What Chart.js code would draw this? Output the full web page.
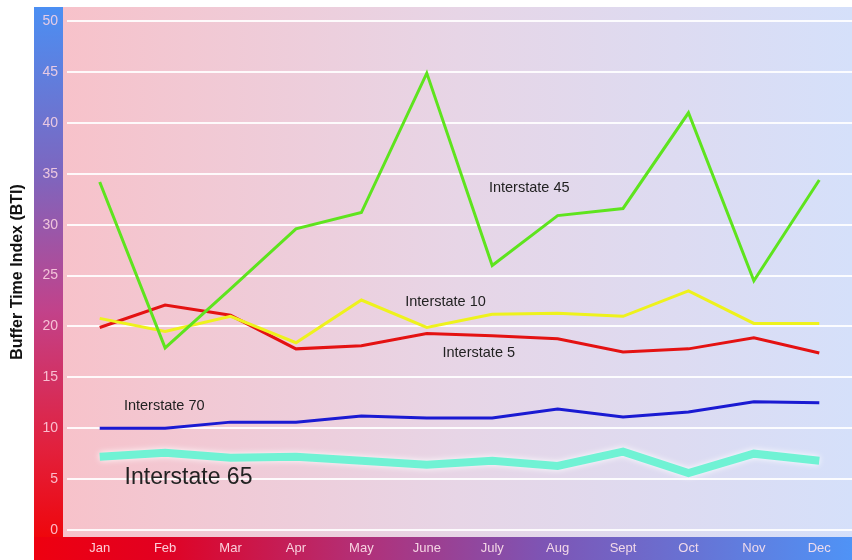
<!DOCTYPE html>
<html>
<head>
<meta charset="utf-8">
<script src="https://cdn.jsdelivr.net/npm/chart.js@4"></script>
<style>
  html, body { margin: 0; padding: 0; background: #fff; }
  #wrap { width: 852px; height: 560px; }
</style>
</head>
<body>
<div id="wrap"><canvas id="myChart"></canvas></div>
<script>
const months = ['Jan', 'Feb', 'Mar', 'Apr', 'May', 'June', 'July', 'Aug', 'Sept', 'Oct', 'Nov', 'Dec'];
const yTicks = [0, 5, 10, 15, 20, 25, 30, 35, 40, 45, 50];

const i45 = [34.2, 17.9, 23.7, 29.6, 31.2, 44.9, 26.0, 30.9, 31.6, 41.0, 24.5, 34.4];
const i10 = [20.8, 19.5, 21.0, 18.4, 22.6, 19.9, 21.2, 21.3, 21.0, 23.5, 20.3, 20.3];
const i5  = [19.9, 22.1, 21.1, 17.8, 18.1, 19.3, 19.1, 18.8, 17.5, 17.8, 18.9, 17.4];
const i70 = [10.0, 10.0, 10.6, 10.6, 11.2, 11.0, 11.0, 11.9, 11.1, 11.6, 12.6, 12.5];
const i65 = [7.2, 7.6, 7.1, 7.2, 6.8, 6.4, 6.8, 6.3, 7.7, 5.6, 7.5, 6.8];

// label text, x as month index, y as BTI value, font size
const seriesLabels = [
    { text: 'Interstate 45', x: 5.95, y: 33.6, size: 14.5 },
    { text: 'Interstate 10', x: 4.67, y: 22.4, size: 14.5 },
    { text: 'Interstate 5',  x: 5.24, y: 17.4, size: 14.5 },
    { text: 'Interstate 70', x: 0.37, y: 12.2, size: 14.5 },
    { text: 'Interstate 65', x: 0.38, y: 5.1,  size: 23 }
];

const backgrounds = {
    id: 'backgrounds',
    beforeDraw(chart) {
        const { ctx, chartArea: a, width, height } = chart;
        ctx.save();
        ctx.fillStyle = '#ffffff';
        ctx.fillRect(0, 0, width, height);

        // plot area
        let g = ctx.createLinearGradient(a.left - 4, 0, a.right, 0);
        g.addColorStop(0, '#f7c2ca');
        g.addColorStop(0.5, '#e7d5e6');
        g.addColorStop(1, '#d5e0fa');
        ctx.fillStyle = g;
        ctx.fillRect(a.left - 4, a.top, a.right - a.left + 4, a.bottom - a.top);

        // y strip
        g = ctx.createLinearGradient(0, a.top, 0, height);
        g.addColorStop(0, '#4b8ff3');
        g.addColorStop(0.3, '#7d66bf');
        g.addColorStop(0.55, '#c2428a');
        g.addColorStop(0.8, '#e2203c');
        g.addColorStop(1, '#f20000');
        ctx.fillStyle = g;
        ctx.fillRect(34, a.top, a.left - 4 - 34, height - a.top);

        // x strip
        g = ctx.createLinearGradient(34, 0, width, 0);
        g.addColorStop(0, '#ee0010');
        g.addColorStop(0.15, '#e20020');
        g.addColorStop(0.4, '#b23078');
        g.addColorStop(0.62, '#7e54b4');
        g.addColorStop(1, '#4f93f6');
        ctx.fillStyle = g;
        ctx.fillRect(34, a.bottom, width - 34, height - a.bottom);
        ctx.restore();
    }
};

const glow = {
    id: 'glow',
    beforeDatasetDraw(chart, args) {
        if (args.index === 4) {
            chart.ctx.save();
            chart.ctx.shadowColor = 'rgba(255,255,255,0.95)';
            chart.ctx.shadowBlur = 6;
        }
    },
    afterDatasetDraw(chart, args) {
        if (args.index === 4) chart.ctx.restore();
    }
};

const labelsPlugin = {
    id: 'seriesLabels',
    afterDatasetsDraw(chart) {
        const { ctx, scales } = chart;
        ctx.save();
        ctx.fillStyle = '#222222';
        ctx.textBaseline = 'middle';
        ctx.textAlign = 'left';
        seriesLabels.forEach(l => {
            ctx.font = `${l.size}px "Liberation Sans", Arial, sans-serif`;
            ctx.fillText(l.text, scales.x.getPixelForValue(l.x), scales.y.getPixelForValue(l.y));
        });
        ctx.restore();
    }
};

const ctx = document.getElementById('myChart').getContext('2d');
const myChart = new Chart(ctx, {
    type: 'line',
    data: {
        labels: months,
        datasets: [
            { label: 'Interstate 45', data: i45, borderColor: '#5ee41e', borderWidth: 3 },
            { label: 'Interstate 10', data: i10, borderColor: '#eef21c', borderWidth: 3 },
            { label: 'Interstate 5',  data: i5,  borderColor: '#e41212', borderWidth: 3 },
            { label: 'Interstate 70', data: i70, borderColor: '#1a1ad2', borderWidth: 3 },
            { label: 'Interstate 65', data: i65, borderColor: '#70f2d4', borderWidth: 8 }
        ]
    },
    options: {
        responsive: true,
        maintainAspectRatio: false,
        animation: false,
        layout: { padding: { top: 7, right: 0, bottom: 0, left: 0 } },
        elements: {
            point: { radius: 0 },
            line: { tension: 0, borderJoinStyle: 'miter', borderCapStyle: 'butt', fill: false }
        },
        plugins: {
            legend: { display: false },
            tooltip: { enabled: false }
        },
        scales: {
            x: {
                offset: true,
                grid: { display: false, drawTicks: false },
                border: { display: false },
                ticks: {
                    color: 'rgba(255,228,236,0.9)',
                    font: { family: '"Liberation Sans Narrow", "Liberation Sans", Arial, sans-serif', size: 13 },
                    padding: 4,
                    maxRotation: 0,
                    autoSkip: false
                },
                afterFit(scale) {
                    scale.height = 23;
                    scale.paddingLeft = 0;
                    scale.paddingRight = 0;
                }
            },
            y: {
                min: -0.69,
                max: 51.4,
                afterBuildTicks(scale) {
                    scale.ticks = yTicks.map(v => ({ value: v }));
                },
                grid: { color: 'rgba(255,255,255,0.9)', lineWidth: 2, drawTicks: false },
                border: { display: false },
                ticks: {
                    color: 'rgba(255,215,228,0.85)',
                    font: { family: '"Liberation Sans", Arial, sans-serif', size: 14 },
                    padding: 9
                },
                title: {
                    display: true,
                    text: 'Buffer Time Index (BTI)',
                    color: '#111111',
                    font: { family: '"Liberation Sans", Arial, sans-serif', size: 16, weight: 'bold' },
                    padding: { top: 8, bottom: 0 }
                },
                afterFit(scale) {
                    scale.width = 67;
                    scale.paddingTop = 0;
                    scale.paddingBottom = 0;
                }
            }
        }
    },
    plugins: [backgrounds, glow, labelsPlugin]
});
</script>
</body>
</html>
